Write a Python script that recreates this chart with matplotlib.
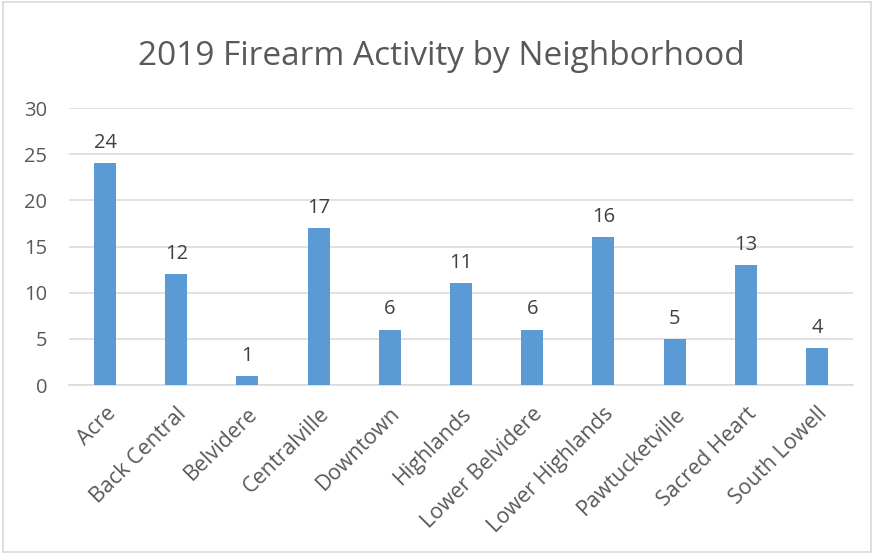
import numpy as np
import matplotlib
matplotlib.use("Agg")
import matplotlib.pyplot as plt
from matplotlib.patches import Rectangle

neighborhoods = ["Acre", "Back Central", "Belvidere", "Centralville", "Downtown",
                 "Highlands", "Lower Belvidere", "Lower Highlands", "Pawtucketville",
                 "Sacred Heart", "South Lowell"]
incidents = [24, 12, 1, 17, 6, 11, 6, 16, 5, 13, 4]
y_ticks = [0, 5, 10, 15, 20, 25, 30]

plt.rcParams['font.family'] = ['Open Sans', 'DejaVu Sans']
text_col = '#595959'

fig = plt.figure(figsize=(8.74, 5.54), dpi=100)
fig.patches.append(Rectangle((0.003, 0.003), 0.994, 0.994, transform=fig.transFigure,
                             fill=False, edgecolor='#D9D9D9', lw=1.2))
ax = fig.add_axes([0.0795, 0.305, 0.896, 0.50])

x = np.arange(len(neighborhoods))
bars = ax.bar(x, incidents, width=0.31, color='#5B9BD5', zorder=3)
for xi, v in zip(x, incidents):
    ax.text(xi, v + 1.1, str(v), ha='center', va='bottom', fontsize=14.5, color='#404040')

ax.set_xlim(-0.5, len(neighborhoods) - 0.5)
ax.set_ylim(0, 30)
ax.set_yticks(y_ticks)
ax.yaxis.grid(True, color='#D9D9D9', lw=1.1, zorder=0)
for s in ['top', 'right', 'left']:
    ax.spines[s].set_visible(False)
ax.spines['bottom'].set_color('#D9D9D9')
ax.spines['bottom'].set_linewidth(1.1)
ax.tick_params(axis='both', length=0, labelcolor=text_col)
ax.tick_params(axis='y', pad=16, labelsize=14.5)
ax.set_xticks(x)
ax.set_xticklabels(neighborhoods, rotation=45, ha='right', rotation_mode='anchor')
ax.tick_params(axis='x', pad=13, labelsize=15.5)

fig.text(0.505, 0.898, "2019 Firearm Activity by Neighborhood", ha='center', va='center',
         fontsize=24, color=text_col)

fig.savefig("out.png", dpi=100)
